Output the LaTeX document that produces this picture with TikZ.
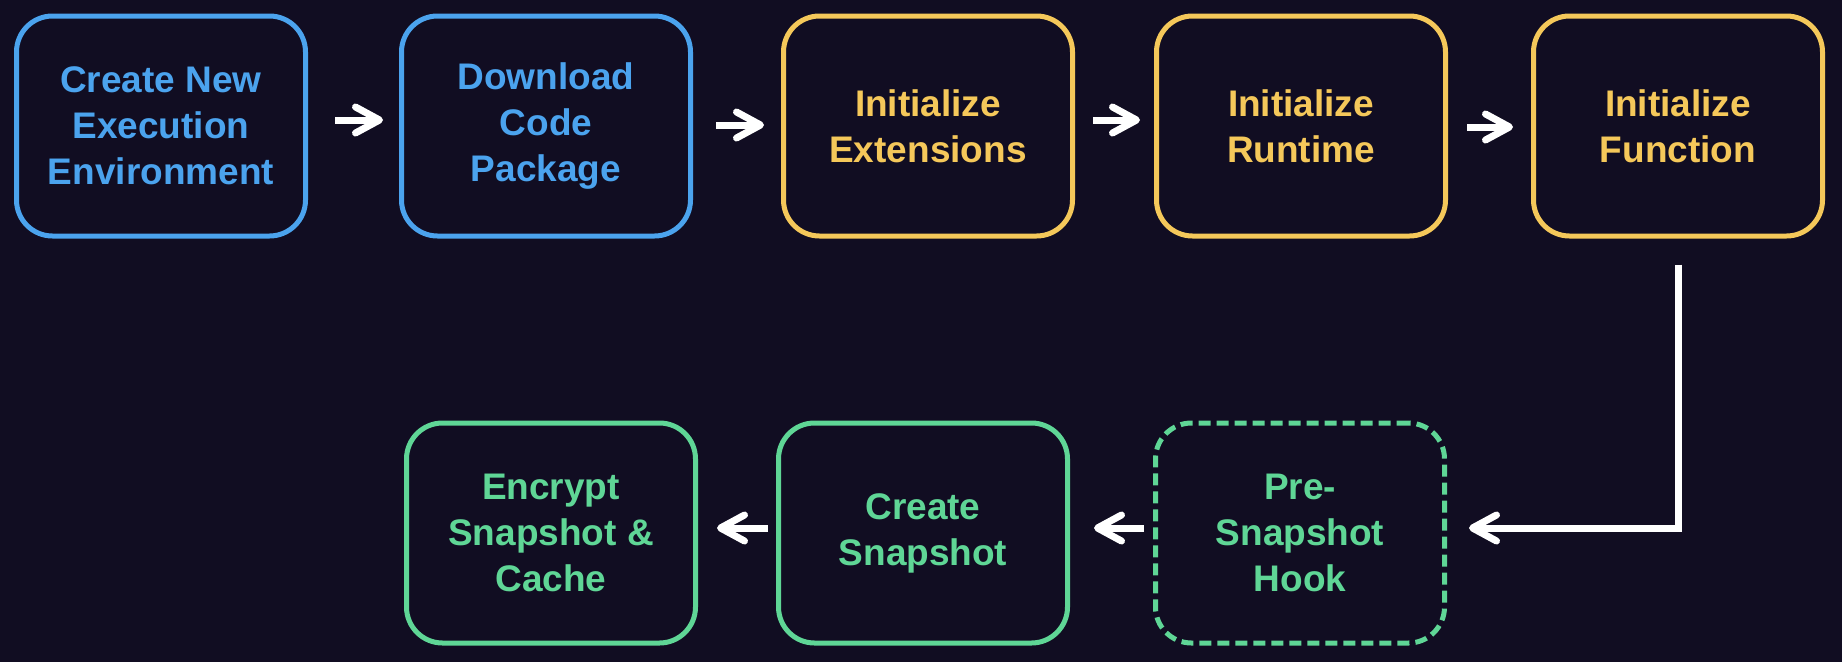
\documentclass[tikz,border=0pt]{standalone}
\usepackage{fontspec}
\setmainfont{Liberation Sans}
\usetikzlibrary{arrows.meta}
\definecolor{bgc}{HTML}{110D22}
\definecolor{cblue}{HTML}{4BA3EE}
\definecolor{cyel}{HTML}{F5C85A}
\definecolor{cgrn}{HTML}{5FD696}
\begin{document}
\begin{tikzpicture}[x=1pt,y=-1pt,
  box/.style={draw, line width=5pt, rounded corners=36pt, minimum width=289pt, minimum height=220pt,
    align=center, inner sep=0pt, font=\fontsize{37}{46}\selectfont\bfseries},
  bluebox/.style={box, draw=cblue, text=cblue},
  yelbox/.style={box, draw=cyel, text=cyel},
  grnbox/.style={box, draw=cgrn, text=cgrn},
  dashbox/.style={dash pattern=on 12pt off 6pt},
  flow/.style={draw=white, line width=7pt, -{Straight Barb[length=24pt,width=26pt,round]}},
]
\fill[bgc] (0,0) rectangle (1842,662);
\useasboundingbox (0,0) rectangle (1842,662);

\node[bluebox] (a) at (161,126) {Create New\\Execution\\Environment};
\node[bluebox] (b) at (546,126) {Download\\Code\\Package};
\node[yelbox] (c) at (928,126) {Initialize\\Extensions};
\node[yelbox] (d) at (1301,126) {Initialize\\Runtime};
\node[yelbox] (e) at (1678,126) {Initialize\\Function};
\node[grnbox] (f) at (551,533) {Encrypt\\Snapshot \&\\Cache};
\node[grnbox] (g) at (923,533) {Create\\Snapshot};
\node[grnbox, dashbox] (h) at (1300,533) {Pre-\\Snapshot\\Hook};

\draw[flow, shorten <=27pt, shorten >=16pt] ([yshift=6pt]a.east) -- ([yshift=6pt]b.west);
\draw[flow, shorten <=23pt, shorten >=17pt] ([yshift=1pt]b.east) -- ([yshift=1pt]c.west);
\draw[flow, shorten <=18pt, shorten >=14pt] ([yshift=6pt]c.east) -- ([yshift=6pt]d.west);
\draw[flow, shorten <=19pt, shorten >=18pt] ([yshift=-1pt]d.east) -- ([yshift=-1pt]e.west);

\draw[flow, shorten <=8pt, shorten >=19pt] ([yshift=5pt]g.west) -- ([yshift=5pt]f.east);
\draw[flow, shorten <=9pt, shorten >=24pt] ([yshift=5pt]h.west) -- ([yshift=5pt]g.east);

\draw[flow, shorten >=22pt] ([yshift=-26pt]e.south) |- ([yshift=5pt]h.east);
\end{tikzpicture}
\end{document}
